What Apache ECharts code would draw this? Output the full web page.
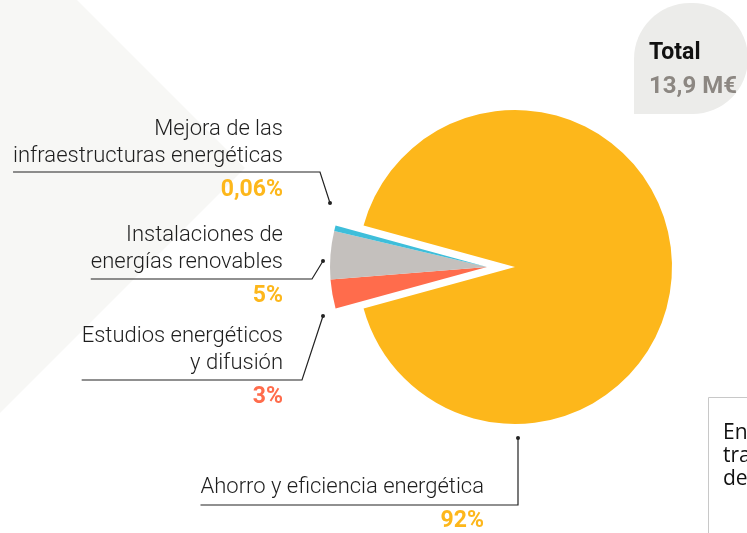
<!DOCTYPE html>
<html>
<head>
<meta charset="utf-8">
<script src="https://cdn.jsdelivr.net/npm/echarts@6/dist/echarts.min.js"></script>
<style>
html, body { margin: 0; padding: 0; background: #fff; }
#chart { width: 747px; height: 533px; }
</style>
</head>
<body>
<div id="chart"></div>
<script>
// datos del gráfico
var categories = [
    'Ahorro y eficiencia energética',
    'Estudios energéticos\ny difusión',
    'Instalaciones de\nenergías renovables',
    'Mejora de las\ninfraestructuras energéticas'
];
var shares = [92, 3, 5, 0.06];
var shareLabels = ['92%', '3%', '5%', '0,06%'];
var totalTitle = 'Total';
var totalLabel = '13,9 M€';
var noteLines = ['En 2019 las', 'transferencias', 'de capital'];

var colors = ['#FDB71B', '#FF6C4C', '#C4C0BD', '#3EBEDA'];
var pctRich = ['po', 'pc', 'po', 'po'];

// posición de las etiquetas: borde derecho y parte superior del texto, extremos de la línea guía
var labelPos = [
    { right: 484, top: 474, dot: [518, 438], bend: [518, 505] },
    { right: 283, top: 323, dot: [323, 316], bend: [302, 380] },
    { right: 283, top: 222, dot: [323, 261], bend: [312, 279] },
    { right: 283, top: 116, dot: [330, 203], bend: [320, 172] }
];

var FONT = 'Roboto, "Noto Sans", sans-serif';

function pieData(visible) {
    return categories.map(function (name, i) {
        var on = visible(i);
        return {
            name: name,
            value: shares[i],
            itemStyle: { color: on ? colors[i] : 'rgba(0,0,0,0)' },
            label: { show: on },
            labelLine: { show: on }
        };
    });
}

function pieSeries(center, visible) {
    return {
        type: 'pie',
        center: center,
        radius: 157,
        startAngle: 164.7,
        minAngle: 2,
        avoidLabelOverlap: false,
        silent: true,
        data: pieData(visible),
        label: {
            formatter: function (p) {
                return '{n|' + p.name + '}\n{' + pctRich[p.dataIndex] + '|' + shareLabels[p.dataIndex] + '}';
            },
            rich: {
                n: { fontFamily: FONT, fontWeight: 300, fontSize: 22, lineHeight: 27, color: '#1e1e1e', align: 'right' },
                po: { fontFamily: FONT, fontWeight: 'bold', fontSize: 23, lineHeight: 41, color: '#FDB71B', align: 'right' },
                pc: { fontFamily: FONT, fontWeight: 'bold', fontSize: 23, lineHeight: 41, color: '#FF6C4C', align: 'right' }
            }
        },
        labelLine: {
            lineStyle: { color: '#222', width: 1.2 }
        },
        labelLayout: function (params) {
            var L = labelPos[params.dataIndex];
            var w = params.labelRect.width;
            return {
                x: L.right,
                y: L.top,
                align: 'right',
                verticalAlign: 'top',
                labelLinePoints: [L.dot, L.bend, [L.right - w, L.bend[1]]]
            };
        }
    };
}

var dots = labelPos.map(function (L) {
    return { type: 'circle', shape: { cx: L.dot[0], cy: L.dot[1], r: 2 }, style: { fill: '#222' }, z: 10 };
});

option = {
    backgroundColor: '#fff',
    animation: false,
    title: {
        text: totalTitle,
        subtext: totalLabel,
        left: 644,
        top: 37,
        itemGap: 10,
        textStyle: { fontFamily: FONT, fontWeight: 'bold', fontSize: 23, color: '#111' },
        subtextStyle: { fontFamily: FONT, fontWeight: 'bold', fontSize: 24, color: '#8c8782' }
    },
    graphic: [
        {
            type: 'polygon', z: -10,
            shape: { points: [[0, 0], [77, 0], [245, 168], [0, 413]] },
            style: { fill: '#F7F7F5' }
        },
        {
            type: 'rect', z: -10,
            shape: { x: 634, y: 3, width: 114, height: 111, r: [56, 56, 56, 0] },
            style: { fill: '#ECECEA' }
        },
        {
            type: 'rect', z: -5,
            shape: { x: 708.5, y: 397.5, width: 120, height: 200 },
            style: { fill: '#fff', stroke: '#C8C8C8', lineWidth: 1 }
        },
        {
            type: 'text', z: 5, x: 723, y: 422,
            style: { text: noteLines.join('\n'), font: '21px "Open Sans", sans-serif', lineHeight: 23, fill: '#111' }
        }
    ].concat(dots),
    series: [
        pieSeries([515, 267], function (i) { return i === 0; }),
        pieSeries([487, 267], function (i) { return i !== 0; })
    ]
};

var chart = echarts.init(document.getElementById('chart'));
chart.setOption(option);
</script>
</body>
</html>
